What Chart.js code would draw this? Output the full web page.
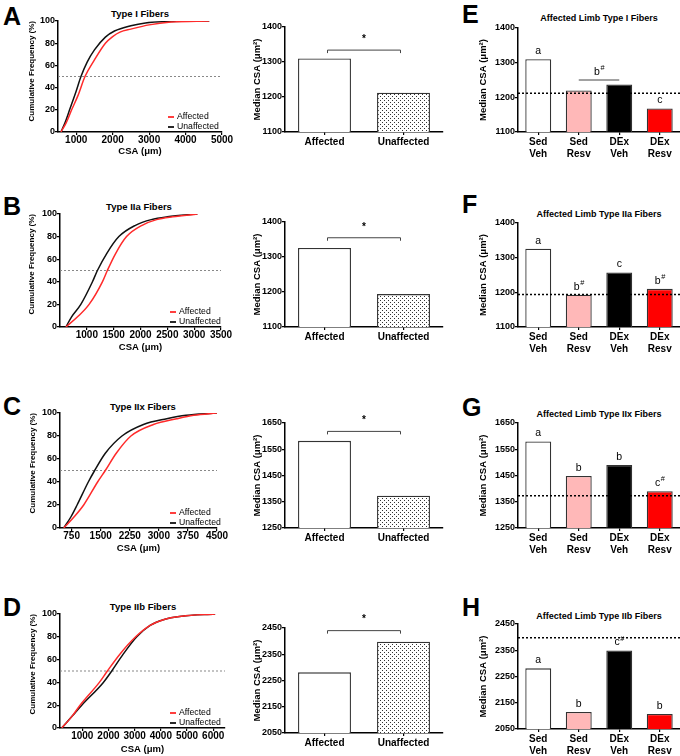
<!DOCTYPE html>
<html><head><meta charset="utf-8">
<script src="https://cdn.jsdelivr.net/npm/chart.js@4.4.1/dist/chart.umd.min.js"></script>
<style>
html,body{margin:0;padding:0;background:#fff;}
body{width:680px;height:756px;position:relative;overflow:hidden;font-family:"Liberation Sans",Arial,Helvetica,sans-serif;color:#000;}
canvas{position:absolute;left:0;top:0;}
.pl{position:absolute;font-weight:bold;font-size:25px;line-height:25px;}
.tt{position:absolute;font-weight:bold;font-size:9.5px;line-height:10px;white-space:nowrap;transform:translateX(-50%);}
</style></head><body>
<div class="pl" style="left:3px;top:4px">A</div>
<div class="pl" style="left:3px;top:194px">B</div>
<div class="pl" style="left:3px;top:394px">C</div>
<div class="pl" style="left:3px;top:595px">D</div>
<div class="pl" style="left:462px;top:2px">E</div>
<div class="pl" style="left:462px;top:192px">F</div>
<div class="pl" style="left:462px;top:395px">G</div>
<div class="pl" style="left:462px;top:595px">H</div>
<div class="tt" style="left:140px;top:9px">Type I Fibers</div>
<div class="tt" style="left:139px;top:202px">Type IIa Fibers</div>
<div class="tt" style="left:143px;top:402px">Type IIx Fibers</div>
<div class="tt" style="left:143px;top:602px">Type IIb Fibers</div>
<div class="tt" style="left:599px;top:13px;font-size:9px">Affected Limb Type I Fibers</div>
<div class="tt" style="left:599px;top:209px;font-size:9px">Affected Limb Type IIa Fibers</div>
<div class="tt" style="left:599px;top:409px;font-size:9px">Affected Limb Type IIx Fibers</div>
<div class="tt" style="left:599px;top:611px;font-size:9px">Affected Limb Type IIb Fibers</div>
<script>
// ---------- DATA ----------
const cdfTicksY = [0, 20, 40, 60, 80, 100];
const cdfTicksA = [1000, 2000, 3000, 4000, 5000];
const cdfTicksB = [1000, 1500, 2000, 2500, 3000, 3500];
const cdfTicksC = [750, 1500, 2250, 3000, 3750, 4500];
const cdfTicksD = [1000, 2000, 3000, 4000, 5000, 6000];

// cumulative frequency curves: CSA values and cumulative %
const aAffX = [580, 720, 875, 1050, 1240, 1500, 1800, 2000, 2200, 2500, 3000, 3600, 4650];
const aAffY = [0, 8, 20, 33, 50, 65, 80, 86, 90, 92.7, 96.5, 99, 100];
const aUnX  = [580, 700, 818, 1000, 1130, 1300, 1500, 1800, 2050, 2500, 2900, 3600, 4650];
const aUnY  = [0, 9, 20, 37, 50, 63, 74, 85.5, 91, 95.8, 98.3, 99.6, 100];

const bAffX = [610, 827, 1042, 1290, 1382, 1536, 1740, 2030, 2300, 2600, 3060];
const bAffY = [0, 9, 20, 40, 50, 65, 80, 90, 95, 97.5, 100];
const bUnX  = [610, 716, 888, 1105, 1197, 1370, 1597, 1906, 2200, 2500, 3060];
const bUnY  = [0, 9, 20, 40, 50, 65, 80, 90, 95, 97.5, 100];

const cAffX = [547, 822, 1061, 1420, 1619, 1901, 2279, 2860, 3461, 3900, 4500];
const cAffY = [0, 10, 20, 40, 50, 65, 80, 90, 95, 98, 100];
const cUnX  = [547, 737, 891, 1180, 1344, 1619, 2048, 2603, 3204, 3700, 4500];
const cUnY  = [0, 10, 20, 40, 50, 65, 80, 90, 95, 98, 100];

const dAffX = [217, 600, 916, 1653, 1958, 2444, 3040, 3590, 4098, 4800, 6073];
const dAffY = [0, 10, 20, 40, 50, 65, 80, 90, 95, 98, 100];
const dUnX  = [217, 600, 980, 1806, 2126, 2570, 3082, 3590, 4098, 4800, 6073];
const dUnY  = [0, 10, 20, 40, 50, 65, 80, 90, 95, 98, 100];

// median CSA, affected vs unaffected
const limbGroups = ['Affected', 'Unaffected'];
const medA = [1310, 1212];
const medB = [1326, 1194];
const medC = [1582, 1373];
const medD = [2281, 2398];
const sigLevel = [1334, 1355, 1618, 2440];

// treatment groups, affected limb
const trtGroups = [['Sed', 'Veh'], ['Sed', 'Resv'], ['DEx', 'Veh'], ['DEx', 'Resv']];
const trtE = [1310, 1220, 1237, 1168];
const trtF = [1326, 1193, 1257, 1210];
const trtG = [1580, 1448, 1490, 1390];
const trtH = [2281, 2115, 2349, 2107];
const lettersE = ['a', '', '', 'c'];
const lettersF = ['a', 'b#', 'c', 'b#'];
const lettersG = ['a', 'b', 'b', 'c#'];
const lettersH = ['a', 'b', 'c#', 'b'];
const bracketE = {from: 1, to: 2, level: 1250, text: 'b#'};
const unaffectedRef = [1212, 1194, 1373, 2398];

const medTicks1 = [1100, 1200, 1300, 1400];
const medTicks3 = [1250, 1350, 1450, 1550, 1650];
const medTicks4 = [2050, 2150, 2250, 2350, 2450];

// ---------- HELPERS ----------
const W = 680, H = 756;
const FONT = '"Liberation Sans", Arial, Helvetica, sans-serif';
function mk() { const c = document.createElement('canvas'); c.width = W; c.height = H; document.body.appendChild(c); return c; }
function pts(xs, ys) { return xs.map((x, i) => ({x: x, y: ys[i]})); }

const gridOpt = {display: true, drawOnChartArea: false, drawTicks: true, tickLength: 3, color: '#000', lineWidth: 1.2};
const borderOpt = {display: true, color: '#000', width: 1.5};

function dotPattern() {
  const c = document.createElement('canvas'); c.width = 4; c.height = 4;
  const g = c.getContext('2d');
  g.fillStyle = '#fff'; g.fillRect(0, 0, 4, 4);
  g.fillStyle = '#333'; g.fillRect(0, 0, 1, 1); g.fillRect(2, 2, 1, 1);
  return g.createPattern(c, 'repeat');
}

const cdfLegend = {
  id: 'cdfLegend',
  afterDraw(chart) {
    const ca = chart.chartArea, ctx = chart.ctx;
    ctx.save();
    ctx.font = '8.7px ' + FONT; ctx.textBaseline = 'middle'; ctx.textAlign = 'left';
    chart.data.datasets.filter(d => d.label).forEach((d, i) => {
      const y = ca.bottom - 15 + i * 10, x = ca.left + 110;
      ctx.strokeStyle = d.borderColor; ctx.lineWidth = 1.8;
      ctx.beginPath(); ctx.moveTo(x, y); ctx.lineTo(x + 6, y); ctx.stroke();
      ctx.fillStyle = '#000'; ctx.fillText(d.label, x + 9, y);
    });
    ctx.restore();
  }
};

function drawMark(ctx, text, cx, cy, size, bold) {
  const base = text.replace('#', ''), sup = text.indexOf('#') >= 0;
  ctx.font = (bold ? 'bold ' : '') + size + 'px ' + FONT;
  const bw = ctx.measureText(base).width;
  let sw = 0;
  if (sup) { ctx.font = (size * 0.7) + 'px ' + FONT; sw = ctx.measureText('#').width; }
  const x0 = cx - (bw + sw) / 2;
  ctx.textAlign = 'left'; ctx.textBaseline = 'middle'; ctx.fillStyle = '#000';
  ctx.font = (bold ? 'bold ' : '') + size + 'px ' + FONT;
  ctx.fillText(base, x0, cy);
  if (sup) { ctx.font = (size * 0.7) + 'px ' + FONT; ctx.fillText('#', x0 + bw + 0.5, cy - 4); }
}

const barAnnot = {
  id: 'barAnnot',
  afterDatasetsDraw(chart, args, o) {
    const ctx = chart.ctx, xs = chart.scales.x, ys = chart.scales.y, ca = chart.chartArea;
    ctx.save();
    if (o.ref != null) {
      const y = ys.getPixelForValue(o.ref);
      ctx.beginPath(); ctx.setLineDash([2, 2]); ctx.lineWidth = 1.5; ctx.strokeStyle = '#000';
      ctx.moveTo(ca.left, y); ctx.lineTo(ca.right, y); ctx.stroke(); ctx.setLineDash([]);
    }
    if (o.sig) {
      const x1 = xs.getPixelForValue(o.sig.from), x2 = xs.getPixelForValue(o.sig.to), y = ys.getPixelForValue(o.sig.level);
      ctx.beginPath(); ctx.lineWidth = 1; ctx.strokeStyle = '#444';
      if (o.sig.ends) { ctx.moveTo(x1 + 3, y + 3); ctx.lineTo(x1 + 3, y); ctx.lineTo(x2 - 3, y); ctx.lineTo(x2 - 3, y + 3); }
      else { ctx.moveTo(x1, y); ctx.lineTo(x2, y); }
      ctx.stroke();
      drawMark(ctx, o.sig.text, (x1 + x2) / 2, y - o.sig.dy, o.sig.size, o.sig.bold);
    }
    if (o.letters) {
      const bars = chart.getDatasetMeta(0).data;
      o.letters.forEach((t, i) => { if (t) drawMark(ctx, t, bars[i].x, bars[i].y - 8, 10.5, false); });
    }
    ctx.restore();
  }
};

function makeCDF(c) {
  const yTitleSize = 8, xTitleSize = 9.5;
  const padL = c.yTitleX - yTitleSize * 1.2 / 2;
  const yW = c.area.l - padL;
  const xBottom = c.xTitleY + xTitleSize * 1.2 / 2;
  const xH = xBottom - c.area.b;
  new Chart(mk(), {
    type: 'scatter',
    data: {datasets: [
      {label: 'Affected', data: pts(c.affX, c.affY), showLine: true, borderColor: '#ff2a2a', borderWidth: 1.5, pointRadius: 0, cubicInterpolationMode: 'monotone'},
      {label: 'Unaffected', data: pts(c.unX, c.unY), showLine: true, borderColor: '#111', borderWidth: 1.5, pointRadius: 0, cubicInterpolationMode: 'monotone'},
      {data: [{x: c.min, y: 50}, {x: c.max, y: 50}], showLine: true, borderColor: '#888', borderWidth: 1, borderDash: [2, 2], pointRadius: 0}
    ]},
    options: {
      responsive: false, animation: false, events: [],
      layout: {padding: {left: padL, top: c.area.t, right: W - c.area.r, bottom: H - xBottom}},
      plugins: {legend: {display: false}, tooltip: {enabled: false}},
      scales: {
        x: {type: 'linear', min: c.min, max: c.max,
            afterBuildTicks: s => { s.ticks = c.ticks.map(v => ({value: v})); },
            afterFit: s => { s.height = xH; },
            ticks: {autoSkip: false, maxRotation: 0, padding: 0, color: '#000', font: {family: FONT, size: 10, weight: 'bold', lineHeight: 1}, callback: v => String(v)},
            grid: gridOpt, border: borderOpt,
            title: {display: true, text: 'CSA (μm)', color: '#000', padding: 0, font: {family: FONT, size: xTitleSize, weight: 'bold', lineHeight: 1.2}}},
        y: {min: 0, max: 100,
            afterBuildTicks: s => { s.ticks = cdfTicksY.map(v => ({value: v})); },
            afterFit: s => { s.width = yW; },
            ticks: {autoSkip: false, padding: 0, color: '#000', font: {family: FONT, size: 9, weight: 'bold'}, callback: v => String(v)},
            grid: gridOpt, border: borderOpt,
            title: {display: true, text: 'Cumulative Frequency (%)', align: 'end', color: '#000', padding: 0, font: {family: FONT, size: yTitleSize, weight: 'bold', lineHeight: 1.2}}}
      }
    },
    plugins: [cdfLegend]
  });
}

function makeBar(c) {
  const yTitleSize = 9.5;
  const padL = c.yTitleX - yTitleSize * 1.2 / 2;
  const yW = c.area.l - padL;
  const xH = c.xH;
  new Chart(mk(), {
    type: 'bar',
    data: {labels: c.labels, datasets: [{data: c.values, backgroundColor: c.colors, borderColor: '#333', borderWidth: 1.3,
      barPercentage: c.barPct, categoryPercentage: 1}]},
    options: {
      responsive: false, animation: false, events: [],
      layout: {padding: {left: padL, top: c.area.t, right: W - c.area.r, bottom: H - c.area.b - xH}},
      plugins: {legend: {display: false}, tooltip: {enabled: false}, barAnnot: c.annot},
      scales: {
        x: {afterFit: s => { s.height = xH; },
            ticks: {autoSkip: false, maxRotation: 0, padding: 1, color: '#000', font: {family: FONT, size: 10, weight: 'bold', lineHeight: 1.2}},
            grid: Object.assign({}, gridOpt, {offset: false}), border: borderOpt},
        y: {min: c.ticks[0], max: c.ticks[c.ticks.length - 1],
            afterBuildTicks: s => { s.ticks = c.ticks.map(v => ({value: v})); },
            afterFit: s => { s.width = yW; },
            ticks: {autoSkip: false, padding: 0, color: '#000', font: {family: FONT, size: 9, weight: 'bold'}, callback: v => String(v)},
            grid: gridOpt, border: borderOpt,
            title: {display: true, text: 'Median CSA (μm²)', color: '#000', padding: 0, font: {family: FONT, size: yTitleSize, weight: 'bold', lineHeight: 1.2}}}
      }
    },
    plugins: [barAnnot]
  });
}

// ---------- BUILD ----------
makeCDF({area: {l: 58, t: 21, r: 222, b: 132}, min: 500, max: 5000, ticks: cdfTicksA, affX: aAffX, affY: aAffY, unX: aUnX, unY: aUnY, yTitleX: 32, xTitleY: 151});
makeCDF({area: {l: 60, t: 214, r: 221, b: 327}, min: 500, max: 3500, ticks: cdfTicksB, affX: bAffX, affY: bAffY, unX: bUnX, unY: bUnY, yTitleX: 32, xTitleY: 347});
makeCDF({area: {l: 60, t: 413, r: 217, b: 528}, min: 450, max: 4500, ticks: cdfTicksC, affX: cAffX, affY: cAffY, unX: cUnX, unY: cUnY, yTitleX: 33, xTitleY: 548});
makeCDF({area: {l: 60, t: 614, r: 225, b: 728}, min: 150, max: 6450, ticks: cdfTicksD, affX: dAffX, affY: dAffY, unX: dUnX, unY: dUnY, yTitleX: 33, xTitleY: 749});

const pat = dotPattern();
const limbColors = ['#ffffff', pat];
const trtColors = ['#ffffff', '#ffb8b8', '#000000', '#ff0000'];
const meds = [medA, medB, medC, medD];
const medTicks = [medTicks1, medTicks1, medTicks3, medTicks4];
const midAreas = [{l: 285, t: 27, r: 443, b: 132}, {l: 285, t: 222, r: 443, b: 327}, {l: 285, t: 423, r: 443, b: 528}, {l: 285, t: 628, r: 443, b: 733}];
meds.forEach((m, i) => {
  makeBar({area: midAreas[i], labels: limbGroups, values: m, colors: limbColors, barPct: 0.67, ticks: medTicks[i], yTitleX: 257, xH: 20,
    annot: {sig: {from: 0, to: 1, level: sigLevel[i], text: '*', dy: 11, size: 10, bold: true, ends: true}}});
});
const trts = [trtE, trtF, trtG, trtH];
const trtLetters = [lettersE, lettersF, lettersG, lettersH];
const rightAreas = [{l: 518, t: 28, r: 680, b: 132}, {l: 518, t: 223, r: 680, b: 327}, {l: 518, t: 423, r: 680, b: 528}, {l: 518, t: 624, r: 680, b: 729}];
trts.forEach((t, i) => {
  const annot = {ref: unaffectedRef[i], letters: trtLetters[i]};
  if (i === 0) annot.sig = {from: bracketE.from, to: bracketE.to, level: bracketE.level, text: bracketE.text, dy: 8, size: 10.5, bold: false, ends: false};
  makeBar({area: rightAreas[i], labels: trtGroups, values: t, colors: trtColors, barPct: 0.64, ticks: medTicks[i], yTitleX: 483, xH: 27, annot: annot});
});
</script>
</body></html>
